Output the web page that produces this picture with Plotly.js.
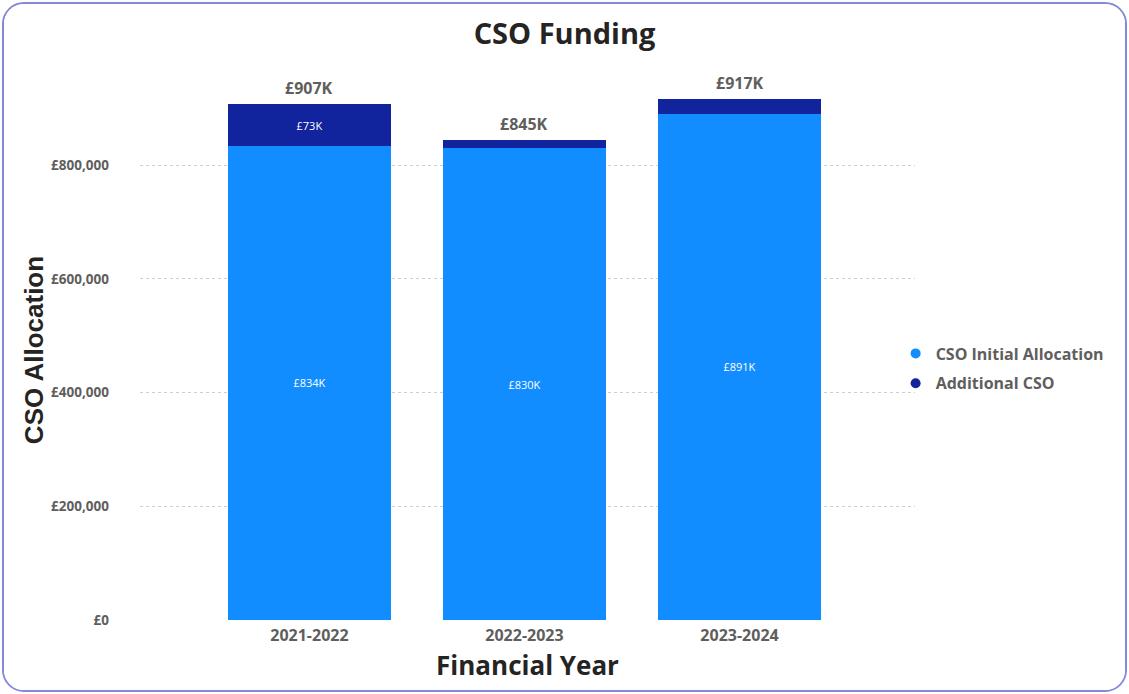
<!DOCTYPE html>
<html>
<head>
<meta charset="utf-8">
<script src="https://cdn.plot.ly/plotly-3.0.1.min.js"></script>
<style>
html,body{margin:0;padding:0;background:#fff;}
#frame{position:absolute;left:2px;top:2px;width:1121px;height:686px;border:2px solid #8189d9;border-radius:22px;overflow:hidden;}
#chart{position:absolute;left:-4px;top:-4px;width:1129px;height:694px;}
</style>
</head>
<body>
<div id="frame"><div id="chart"></div></div>
<script>
const years = ['2021-2022', '2022-2023', '2023-2024'];
const initialAllocation = [834000, 830000, 891000];
const additionalCSO = [73000, 15000, 26000];
const initialLabels = ['£834K', '£830K', '£891K'];
const additionalLabels = ['£73K', '', ''];
const totalLabels = ['£907K', '£845K', '£917K'];
const yTickValues = [0, 200000, 400000, 600000, 800000];
const yTickLabels = ['£0', '£200,000', '£400,000', '£600,000', '£800,000'];

const initialColor = '#118DFF';
const additionalColor = '#12239E';
const totals = initialAllocation.map((v, i) => v + additionalCSO[i]);

const traces = [
  {
    type: 'bar', x: years, y: initialAllocation, name: 'CSO Initial Allocation',
    marker: {color: initialColor}, width: 0.76, showlegend: false,
    text: initialLabels, textposition: 'inside', insidetextanchor: 'middle',
    textfont: {color: '#ffffff', size: 11, family: 'Open Sans'}, hoverinfo: 'skip'
  },
  {
    type: 'bar', x: years, y: additionalCSO, name: 'Additional CSO',
    marker: {color: additionalColor}, width: 0.76, showlegend: false,
    text: additionalLabels, textposition: 'inside', insidetextanchor: 'middle',
    textfont: {color: '#ffffff', size: 11, family: 'Open Sans'}, hoverinfo: 'skip'
  },
  {
    type: 'scatter', mode: 'markers', x: [null], y: [null], name: 'CSO Initial Allocation',
    legendgroup: 'a', marker: {color: initialColor, size: 10, symbol: 'circle'}
  },
  {
    type: 'scatter', mode: 'markers', x: [null], y: [null], name: 'Additional CSO',
    legendgroup: 'b', marker: {color: additionalColor, size: 10, symbol: 'circle'}
  }
];

const annotations = years.map((yr, i) => ({
  x: yr, y: totals[i], xref: 'x', yref: 'y', text: '<b>' + totalLabels[i] + '</b>',
  showarrow: false, yanchor: 'bottom', yshift: 3,
  font: {family: 'Open Sans', size: 16, color: '#605E5C'}
}));

const layout = {
  width: 1129, height: 694,
  paper_bgcolor: '#ffffff', plot_bgcolor: '#ffffff',
  margin: {l: 140, r: 214, t: 80, b: 74},
  barmode: 'stack',
  annotations: annotations,
  title: {
    text: '<b>CSO Funding</b>', x: 0.5, xanchor: 'center', y: 0.951, yanchor: 'middle',
    font: {family: 'Open Sans', size: 29, color: '#252423'}
  },
  xaxis: {
    type: 'category', range: [-0.788, 2.816], fixedrange: true,
    showgrid: false, zeroline: false, showline: false, ticks: '',
    ticklabelstandoff: 4,
    tickfont: {family: 'Open Sans', size: 16, color: '#605E5C', weight: 'bold'},
    title: {text: 'Financial Year', standoff: 11,
      font: {family: 'Open Sans', size: 26, color: '#252423', weight: 'bold'}}
  },
  yaxis: {
    range: [0, 950000], fixedrange: true,
    tickvals: yTickValues, ticktext: yTickLabels,
    showgrid: true, gridcolor: '#cfcfcf', griddash: 'dot', gridwidth: 1,
    zeroline: false, showline: false, ticks: '', ticklabelstandoff: 30,
    tickfont: {family: 'Open Sans', size: 13.5, color: '#605E5C', weight: 'bold'},
    title: {text: 'CSO Allocation', standoff: 0,
      font: {family: 'Liberation Sans Narrow, Liberation Sans', size: 26, color: '#252423', weight: 'bold'}}
  },
  legend: {
    x: 0.975, xanchor: 'left', y: 0.525, yanchor: 'top', traceorder: 'grouped',
    font: {family: 'Open Sans', size: 16, color: '#605E5C', weight: 'bold'},
    itemwidth: 30, tracegroupgap: 6, bgcolor: 'rgba(0,0,0,0)'
  },
  showlegend: true
};

Plotly.newPlot('chart', traces, layout, {displayModeBar: false, staticPlot: true});
</script>
</body>
</html>
